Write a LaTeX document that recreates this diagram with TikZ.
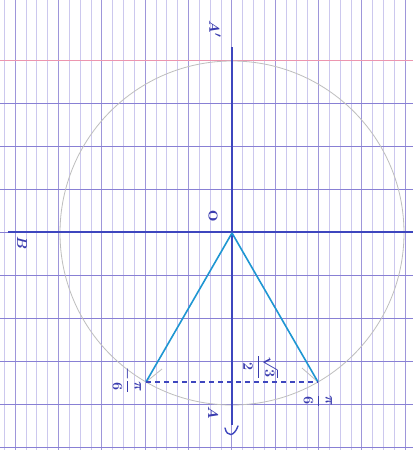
\documentclass[tikz,border=0pt]{standalone}
\usepackage{amsmath}
\begin{document}
\begin{tikzpicture}[x=1pt,y=-1pt,
  fineline/.style={draw=finec,line width=0.6pt},
  heavyline/.style={draw=heavyc,line width=0.8pt},
  rowline/.style={draw=rowc,line width=0.9pt},
  axisline/.style={draw=axisc,line width=1.6pt},
  segline/.style={draw=segc,line width=1.6pt},
  lbl/.style={text=inkc,font=\fontsize{15}{15}\selectfont\boldmath,rotate=-90,inner sep=0pt}]
\definecolor{finec}{RGB}{204,200,238}
\definecolor{heavyc}{RGB}{158,150,218}
\definecolor{rowc}{RGB}{136,128,212}
\definecolor{pinkc}{RGB}{236,150,175}
\definecolor{axisc}{RGB}{62,70,190}
\definecolor{segc}{RGB}{30,150,210}
\definecolor{inkc}{RGB}{58,60,175}
\definecolor{circc}{RGB}{190,190,190}
\useasboundingbox (0,0) rectangle (413,450);
\fill[white] (0,0) rectangle (413,450);
% fine vertical lines
\foreach \i in {0,...,37}{
  \draw[fineline] ({4.17+10.833*\i},0) -- ({4.17+10.833*\i},450);
}
% heavy vertical lines
\foreach \i in {0,...,9}{
  \draw[heavyline] ({15+43.333*\i},0) -- ({15+43.333*\i},450);
}
% horizontal lines
\foreach \i in {1,...,9}{
  \draw[rowline] (0,{60+43.1*\i}) -- (413,{60+43.1*\i});
}
\draw[draw=pinkc,line width=1pt] (0,60) -- (413,60);
% circle
\coordinate (O) at (232,233);
\draw[draw=circc,line width=0.8pt] (O) circle[radius=172];
% compass marks
\coordinate (P1) at (146,382);
\coordinate (P2) at (318,382);
\coordinate (m1) at (162,369);
\coordinate (m2) at (302,368);
\draw[draw=circc,line width=0.8pt] (P1) -- (m1);
\draw[draw=circc,line width=0.8pt] (P2) -- (m2);
% axes
\coordinate (xl) at (8,232);
\coordinate (xr) at (413,232);
\coordinate (yt) at (232,47);
\coordinate (yb) at (232,425);
\draw[axisline] (xl) -- (xr);
\draw[axisline] (yt) -- (yb);
\coordinate (h1) at (225,428);
\coordinate (h2) at (238,426);
\draw[axisline,line width=1.4pt,line cap=round] (h1) .. controls (227,437) and (234,437) .. (h2);
% segments
\draw[segline] (O) -- (P1);
\draw[segline] (O) -- (P2);
\draw[draw=axisc,line width=1.3pt,dash pattern=on 5pt off 4pt] (P1) -- (P2);
% labels
\node[lbl,font=\fontsize{20}{20}\selectfont\bfseries] (lO) at (213,216) {o};
\node[lbl] (lB) at (22,243) {$B$};
\node[lbl] (lAp) at (215,29) {$A'$};
\node[lbl] (lA) at (213,413) {$A$};
\node[lbl] (lr) at (261,367) {$\dfrac{\sqrt{3}}{2}$};
\node[lbl] (lp) at (318,401) {$\dfrac{\pi}{6}$};
\node[lbl] (lm) at (127,380) {$-\dfrac{\pi}{6}$};
\end{tikzpicture}
\end{document}
